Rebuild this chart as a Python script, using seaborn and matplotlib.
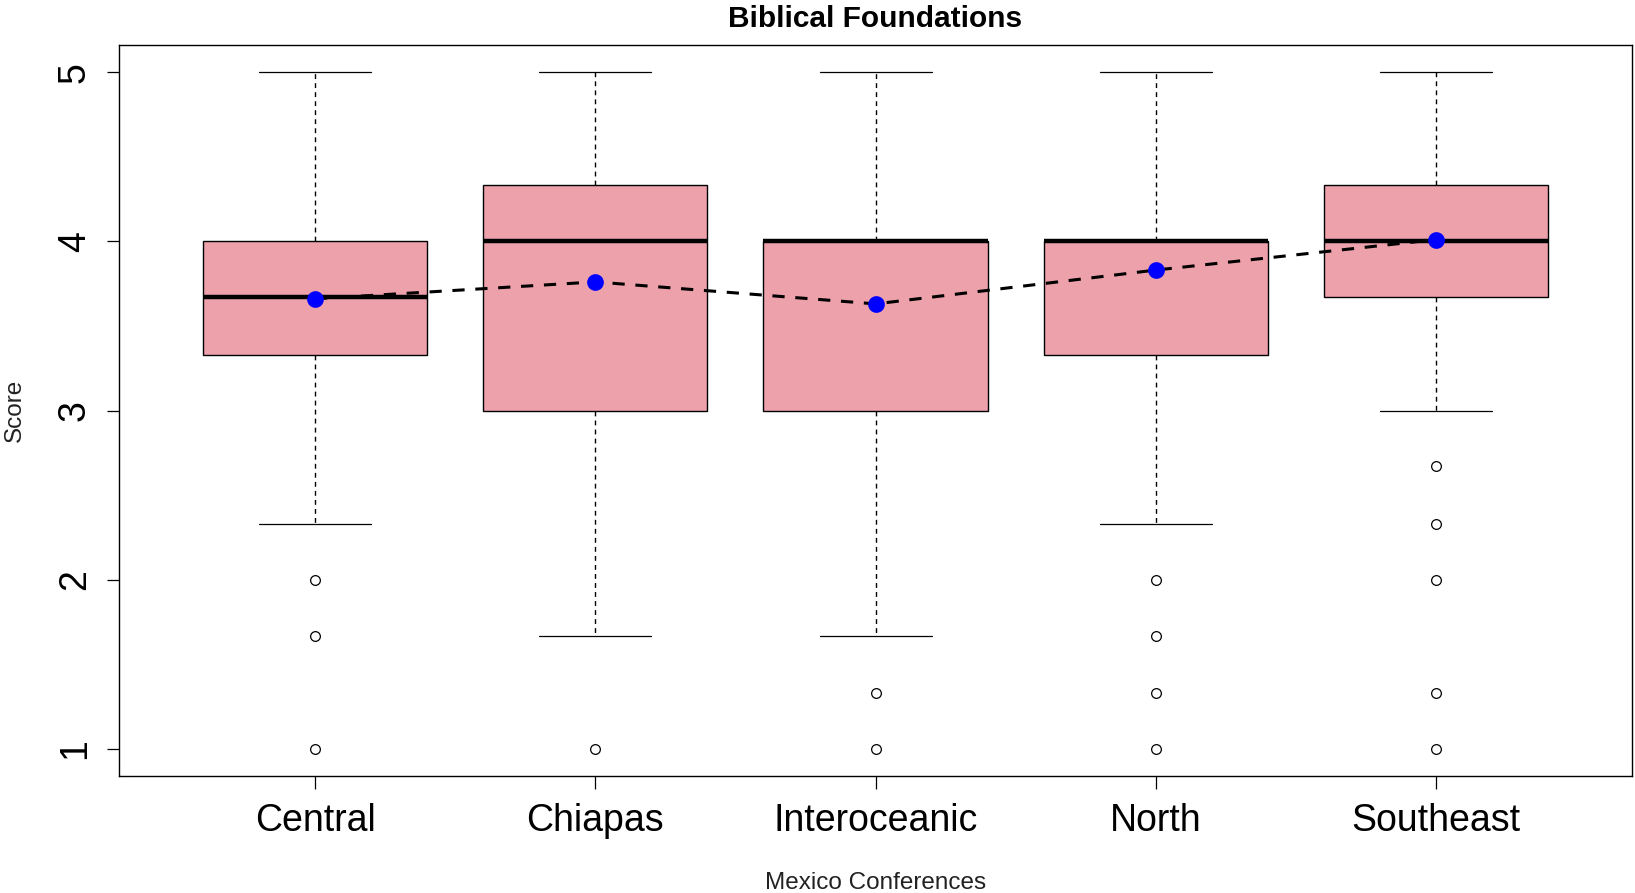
import numpy as np
import pandas as pd
import matplotlib.pyplot as plt
import seaborn as sns

conferences = ["Central", "Chiapas", "Interoceanic", "North", "Southeast"]

# score levels and how many respondents gave each one, per conference
central_values = [1.0, 1.67, 2.0, 2.33, 2.67, 3.0, 3.33, 3.67, 4.0, 4.33, 4.67, 5.0]
central_counts = [1, 1, 1, 2, 3, 5, 8, 10, 10, 6, 4, 3]

chiapas_values = [1.0, 1.67, 2.0, 2.33, 2.67, 3.0, 3.33, 3.67, 4.0, 4.33, 4.67, 5.0]
chiapas_counts = [1, 1, 2, 2, 3, 8, 5, 6, 12, 10, 5, 5]

interoceanic_values = [1.0, 1.33, 1.67, 2.0, 2.33, 2.67, 3.0, 3.33, 3.67, 4.0, 4.33, 4.67, 5.0]
interoceanic_counts = [1, 1, 1, 2, 3, 4, 8, 4, 4, 20, 4, 3, 4]

north_values = [1.0, 1.33, 1.67, 2.0, 2.33, 2.67, 3.0, 3.33, 3.67, 4.0, 4.33, 4.67, 5.0]
north_counts = [1, 1, 1, 1, 2, 3, 5, 8, 8, 27, 6, 5, 6]

southeast_values = [1.0, 1.33, 2.0, 2.33, 2.67, 3.0, 3.33, 3.67, 4.0, 4.33, 4.67, 5.0]
southeast_counts = [1, 1, 1, 1, 1, 4, 5, 10, 15, 12, 8, 8]

# group means (blue dots)
mean_scores = [3.66, 3.76, 3.63, 3.83, 4.01]

y_ticks = [1, 2, 3, 4, 5]

groups = [
    (central_values, central_counts),
    (chiapas_values, chiapas_counts),
    (interoceanic_values, interoceanic_counts),
    (north_values, north_counts),
    (southeast_values, southeast_counts),
]
frames = []
for name, (vals, cnts) in zip(conferences, groups):
    scores = np.repeat(vals, cnts)
    frames.append(pd.DataFrame({"Conference": name, "Score": scores}))
data = pd.concat(frames, ignore_index=True)

sns.set_style("ticks")
plt.rcParams["font.family"] = ["Liberation Sans", "DejaVu Sans"]
plt.rcParams["text.color"] = "black"

fig = plt.figure(figsize=(16.35, 8.93), dpi=100)
ax = fig.add_axes([0.0728, 0.131, 0.9254, 0.8186])

sns.boxplot(
    data=data,
    x="Conference",
    y="Score",
    order=conferences,
    color="#EDA1AB",
    saturation=1,
    width=0.8,
    linecolor="black",
    linewidth=1,
    whis=1.5,
    fliersize=7,
    medianprops={"linewidth": 3.2, "color": "black"},
    whiskerprops={"linestyle": (0, (3.5, 3)), "linewidth": 1},
    capprops={"linewidth": 0.9},
    flierprops={
        "marker": "o",
        "markerfacecolor": "none",
        "markeredgecolor": "black",
        "markeredgewidth": 0.9,
    },
    ax=ax,
)

# dashed line through the means, then the mean dots on top
sns.pointplot(
    x=conferences,
    y=mean_scores,
    order=conferences,
    color="black",
    marker="",
    linestyle=(0, (4, 3.5)),
    linewidth=2.2,
    errorbar=None,
    ax=ax,
)
sns.pointplot(
    x=conferences,
    y=mean_scores,
    order=conferences,
    color="blue",
    marker="o",
    markersize=10,
    linestyle="none",
    errorbar=None,
    ax=ax,
)
for ln in ax.lines[-2:]:
    ln.set_zorder(5)

ax.set_xlim(-0.7, 4.7)
ax.set_ylim(0.84, 5.16)
ax.set_yticks(y_ticks)
ax.set_yticklabels([str(t) for t in y_ticks], rotation=90, va="center")

for spine in ax.spines.values():
    spine.set_visible(True)
    spine.set_linewidth(1)
    spine.set_color("black")

ax.tick_params(axis="both", direction="out", length=9, width=0.9,
               colors="black", labelcolor="black", labelsize=27)
ax.tick_params(axis="x", pad=10.5)
ax.tick_params(axis="y", pad=10)

ax.set_title("Biblical Foundations", fontsize=21.5, fontweight="bold",
             color="black", pad=13)
ax.set_xlabel("Mexico Conferences", fontsize=17.5, color="#222222")
ax.set_ylabel("Score", fontsize=17.5, color="#222222")
ax.xaxis.label.set_va("center")
ax.xaxis.set_label_coords(0.5, -0.147)
ax.yaxis.label.set_va("center")
ax.yaxis.set_label_coords(-0.0687, 0.5)

plt.savefig("out.png", dpi=100)
plt.close()
